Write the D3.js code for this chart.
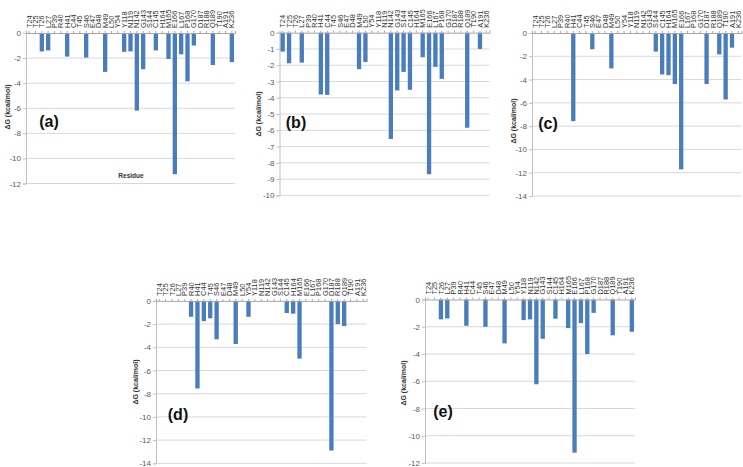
<!DOCTYPE html>
<html><head><meta charset="utf-8">
<script src="https://cdn.jsdelivr.net/npm/d3@7"></script>
<style>
html,body{margin:0;padding:0;background:#fff;}
svg{display:block;font-family:"Liberation Sans",Arial,sans-serif;}
</style></head>
<body><svg id="c" width="743" height="467"></svg>
<script>
const residues = ["T24","T25","T26","L27","P39","R40","H41","C44","T45","S46","E47","D48","M49","L50","Y54","Y118","N119","N142","G143","S144","C145","H164","M165","E166","L167","P168","G170","D187","R188","Q189","T190","A191","K236"];
//                 T24  T25   T26   L27  P39  R40   H41   C44   T45   S46  E47 D48  M49   L50  Y54  Y118  N119  N142  G143  S144  C145  H164  M165  E166   L167  P168  G170  D187   R188  Q189  T190  A191  K236
const valuesA = [  0,    0, -1.47,-1.39, 0,    0, -1.88,   0,    0, -1.96, 0,  0, -3.1,    0,   0, -1.5,-1.47,-6.19,-2.89,   0,-1.39,   0,-2.07,-11.26,-1.7,-3.85,-1.0,    0,    0,-2.55,   0,    0,-2.32];
const valuesB = [-1.16,-1.88,  0, -1.84, 0,    0, -3.8, -3.82,   0,    0,  0,  0, -2.24,-1.8,   0,    0,    0,-6.53,-3.55,-2.41,-3.51,   0,-1.51, -8.7, -2.1,-2.84,   0,    0,    0,-5.84,   0, -1.0,    0];
const valuesC = [  0,    0,    0,    0,  0,    0, -7.57,   0,    0, -1.4,  0,  0, -3.04,   0,   0,    0,    0,    0,    0, -1.6,-3.56,-3.62,-4.38,-11.71,  0,    0,    0,-4.38,    0,-1.84,-5.71,-1.26,   0];
const valuesD = [  0,    0,    0,    0,  0,-1.37, -7.55,-1.74,-1.5, -3.31, 0,  0, -3.72,   0,-1.37,   0,    0,    0,    0,    0,-1.04,-1.1,-4.98,    0,    0,    0,    0,-12.9, -2.0,-2.17,   0,    0,    0];
const valuesE = [  0,    0, -1.46,-1.39, 0,    0, -1.93,   0,    0, -2.0,  0,  0, -3.22,   0,   0,-1.51,-1.46,-6.22,-2.88,   0,-1.41,   0,-2.1, -11.24,-1.73,-4.0, -0.98,   0,    0,-2.63,   0,    0,-2.37];
const tickStepsA = 2, tickStepsB = 1, tickStepsC = 2, tickStepsD = 2, tickStepsE = 2;
const minA = -12, minB = -10, minC = -14, minD = -14, minE = -12;
const panelLetters = ["(a)","(b)","(c)","(d)","(e)"];
const yTitle = "ΔG (kcal/mol)";
const xTitle = "Residue";

const panels = [
  {vals:valuesA, min:minA, step:tickStepsA, x0:26,   x1:235,   y0:33,   y1:183.5, tx:7,   ty:107, lx:49,  ly:121, letter:panelLetters[0], residueLabel:true},
  {vals:valuesB, min:minB, step:tickStepsB, x0:279.5,x1:489.5, y0:32.7, y1:195.4, tx:258, ty:114, lx:296, ly:122, letter:panelLetters[1]},
  {vals:valuesC, min:minC, step:tickStepsC, x0:532,  x1:741.5, y0:33,   y1:196,   tx:513, ty:121, lx:548, ly:123, letter:panelLetters[2]},
  {vals:valuesD, min:minD, step:tickStepsD, x0:156,  x1:366.5, y0:300.9,y1:463.3, tx:135, ty:382, lx:178, ly:414, letter:panelLetters[3]},
  {vals:valuesE, min:minE, step:tickStepsE, x0:425,  x1:635,   y0:299.5,y1:463,   tx:403, ty:383, lx:443, ly:411, letter:panelLetters[4]}
];

const svg = d3.select("#c");
const barColor = "#4a7ebb";

panels.forEach(p => {
  const g = svg.append("g");
  const x = d3.scaleBand().domain(residues).range([p.x0, p.x1]).paddingInner(0.32).paddingOuter(0.16);
  const y = d3.scaleLinear().domain([0, p.min]).range([p.y0, p.y1]);
  const ticks = d3.range(0, p.min - 0.001, -p.step);

  // gridlines
  g.selectAll("line.grid").data(ticks.filter(t => t !== 0)).enter().append("line")
    .attr("x1", p.x0).attr("x2", p.x1)
    .attr("y1", d => y(d)).attr("y2", d => y(d))
    .attr("stroke", "#d9d9d9").attr("stroke-width", 1);

  // left axis
  const yAxis = d3.axisLeft(y).tickValues(ticks).tickSize(3).tickFormat(d => d === 0 ? "0" : d3.format("d")(d).replace("−","-"));
  const ya = g.append("g").attr("transform", `translate(${p.x0},0)`).call(yAxis);
  ya.select(".domain").attr("stroke", "#bfbfbf");
  ya.selectAll(".tick line").attr("stroke", "#bfbfbf");
  ya.selectAll(".tick text").attr("fill", "#595959").attr("font-size", "8px").attr("x", -5);

  // bars
  g.selectAll("rect").data(residues.map((r, i) => ({r, v: p.vals[i]})).filter(d => d.v !== 0))
    .enter().append("rect")
    .attr("x", d => x(d.r)).attr("width", x.bandwidth())
    .attr("y", y(0)).attr("height", d => y(d.v) - y(0))
    .attr("fill", barColor);

  // zero axis with category ticks
  const xAxis = d3.axisTop(x).tickSize(2).tickFormat("");
  const xa = g.append("g").attr("transform", `translate(0,${p.y0})`).call(xAxis);
  xa.select(".domain").attr("stroke", "#a6a6a6");
  xa.selectAll(".tick line").attr("stroke", "#a6a6a6");

  // category labels
  g.selectAll("text.cat").data(residues).enter().append("text")
    .attr("class", "cat")
    .attr("transform", d => `translate(${x(d) + x.bandwidth()/2 + 2.6},${p.y0 - 5}) rotate(-90)`)
    .attr("font-size", "7.4px").attr("fill", "#333")
    .attr("text-anchor", "start")
    .text(d => d);

  // y title
  g.append("text")
    .attr("transform", `translate(${p.tx + 2.5},${p.ty}) rotate(-90)`)
    .attr("text-anchor", "middle").attr("font-size", "7px").attr("font-weight", "bold").attr("fill", "#333")
    .text(yTitle);

  // panel letter
  g.append("text").attr("x", p.lx).attr("y", p.ly + 6).attr("text-anchor", "middle")
    .attr("font-size", "16px").attr("font-weight", "bold").attr("fill", "#111")
    .text(p.letter);

  if (p.residueLabel) {
    g.append("text").attr("x", 131).attr("y", 178).attr("text-anchor", "middle")
      .attr("font-size", "6.5px").attr("font-weight", "bold").attr("fill", "#333").text(xTitle);
  }
});
</script></body></html>
